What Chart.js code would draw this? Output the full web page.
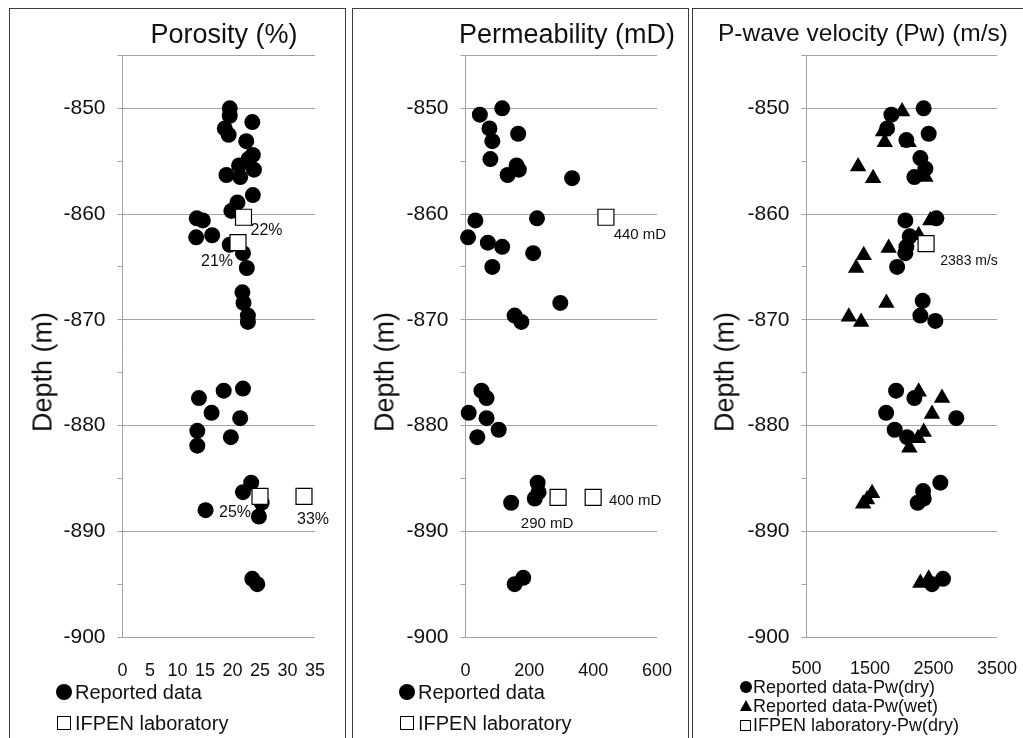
<!DOCTYPE html>
<html>
<head>
<meta charset="utf-8">
<script src="https://cdn.jsdelivr.net/npm/chart.js@4.4.0/dist/chart.umd.min.js"></script>
<style>
  body { margin:0; background:#fff; width:1023px; height:738px; overflow:hidden; position:relative;
         font-family:"Liberation Sans", Arial, sans-serif; color:#111; }
  .box { position:absolute; top:8px; height:760px; border:1.5px solid #3c3c3c; box-sizing:border-box; }
  canvas { position:absolute; top:10px; }
  .title { position:absolute; line-height:1; white-space:nowrap; transform:translate(-50%,-50%); }
  .ytitle { position:absolute; top:372px; font-size:27px; line-height:1; white-space:nowrap;
            transform:translate(-50%,-50%) rotate(-90deg); }
  .leg { position:absolute; white-space:nowrap; }
  .dot { position:absolute; border-radius:50%; background:#000; }
  .sq { position:absolute; border:1px solid #000; background:#fff; box-sizing:border-box; }
  .tri { position:absolute; width:0; height:0; border-left:6px solid transparent;
         border-right:6px solid transparent; border-bottom:11px solid #000; }
</style>
</head>
<body>
<div class="box" style="left:9px;width:337px"></div>
<div class="box" style="left:352px;width:337px"></div>
<div class="box" style="left:692px;width:360px"></div>

<canvas id="c1" width="334" height="680" style="left:11px"></canvas>
<canvas id="c2" width="334" height="680" style="left:354px"></canvas>
<canvas id="c3" width="328" height="680" style="left:695px"></canvas>

<div class="title" style="left:224px;top:34px;font-size:27px">Porosity (%)</div>
<div class="title" style="left:567px;top:34px;font-size:27px">Permeability (mD)</div>
<div class="title" style="left:863px;top:33px;font-size:24.5px">P-wave velocity (Pw) (m/s)</div>

<div class="ytitle" style="left:43px">Depth (m)</div>
<div class="ytitle" style="left:385px">Depth (m)</div>
<div class="ytitle" style="left:725px">Depth (m)</div>

<!-- legends -->
<div class="dot" style="left:56px;top:684px;width:16px;height:16px"></div>
<div class="leg" style="left:75px;top:682px;font-size:20px;line-height:20px">Reported data</div>
<div class="sq" style="left:57px;top:716px;width:14px;height:14px"></div>
<div class="leg" style="left:75px;top:713px;font-size:20px;line-height:20px">IFPEN laboratory</div>

<div class="dot" style="left:399px;top:684px;width:16px;height:16px"></div>
<div class="leg" style="left:418px;top:682px;font-size:20px;line-height:20px">Reported data</div>
<div class="sq" style="left:400px;top:716px;width:14px;height:14px"></div>
<div class="leg" style="left:418px;top:713px;font-size:20px;line-height:20px">IFPEN laboratory</div>

<div class="dot" style="left:740px;top:681px;width:12px;height:12px"></div>
<div class="leg" style="left:753px;top:678px;font-size:18px;line-height:18px">Reported data-Pw(dry)</div>
<div class="tri" style="left:740px;top:700px"></div>
<div class="leg" style="left:753px;top:697px;font-size:18px;line-height:18px">Reported data-Pw(wet)</div>
<div class="sq" style="left:740px;top:720px;width:11px;height:11px"></div>
<div class="leg" style="left:753px;top:716px;font-size:18px;line-height:18px">IFPEN laboratory-Pw(dry)</div>

<script>
// depth axis (m)
const depthTicks = [-900, -895, -890, -885, -880, -875, -870, -865, -860, -855, -850, -845];
const depthLabels = [-900, -890, -880, -870, -860, -850];

// porosity (%)
const porosityTicks = [0, 5, 10, 15, 20, 25, 30, 35];
const porosity = [19.5, 19.5, 23.6, 18.6, 19.3, 22.5, 23.7, 22.9, 21.2, 23.9, 18.9, 21.4, 23.7, 20.9,
  19.8, 13.5, 14.6, 16.3, 13.4, 19.5, 21.9, 22.6, 21.8, 22.0, 22.8, 22.8, 13.9, 18.4, 21.9, 16.2,
  21.4, 13.6, 19.7, 13.6, 23.4, 21.9, 15.1, 24.8, 25.3, 23.6, 24.5];
const porosityDepth = [-850.0, -850.7, -851.3, -851.9, -852.5, -853.1, -854.4, -854.8, -855.4, -855.8,
  -856.3, -856.5, -858.2, -858.9, -859.7, -860.4, -860.6, -862.0, -862.2, -862.9, -863.7, -865.1,
  -867.4, -868.4, -869.6, -870.2, -877.4, -876.7, -876.5, -878.8, -879.3, -880.5, -881.1, -881.9,
  -885.4, -886.3, -888.0, -888.6, -887.3, -894.5, -895.0];
const porosityLab = [22, 21, 25, 33];
const porosityLabDepth = [-860.3, -862.7, -886.7, -886.7];
const porosityLabText = ["22%", "21%", "25%", "33%"];

// permeability (mD)
const permTicks = [0, 200, 400, 600];
const perm = [115, 45, 75, 84, 165, 78, 160, 167, 132, 334, 224, 31, 8, 70, 115, 212, 84, 297, 154,
  175, 50, 66, 10, 66, 104, 37, 226, 229, 217, 143, 181, 154];
const permDepth = [-850.0, -850.6, -851.9, -853.1, -852.4, -854.8, -855.4, -855.8, -856.3, -856.6,
  -860.4, -860.6, -862.2, -862.7, -863.1, -863.7, -865.0, -868.4, -869.6, -870.2, -876.7, -877.4,
  -878.8, -879.3, -880.4, -881.1, -885.4, -886.3, -886.9, -887.3, -894.4, -895.0];
const permLab = [440, 290, 400];
const permLabDepth = [-860.3, -886.8, -886.8];
const permLabText = ["440 mD", "290 mD", "400 mD"];

// P-wave velocity (m/s)
const pwTicks = [500, 1500, 2500, 3500];
const pwDry = [2345, 1837, 1769, 2424, 2073, 2293, 2372, 2199, 2057, 2545, 2125, 2073, 2057, 1927,
  2330, 2293, 2529, 1911, 2199, 1754, 2859, 1889, 2084, 2608, 2336, 2346, 2251, 2650, 2477];
const pwDryDepth = [-850.0, -850.6, -851.9, -852.4, -853.0, -854.7, -855.7, -856.5, -860.6, -860.4,
  -862.1, -863.1, -863.7, -865.0, -868.2, -869.6, -870.1, -876.7, -877.4, -878.8, -879.3, -880.4,
  -881.1, -885.4, -886.2, -886.9, -887.3, -894.5, -895.0];
const pwWet = [2005, 1706, 1732, 2109, 1313, 1549, 2372, 2450, 2267, 1794, 1401, 1282, 1758, 1166,
  1360, 2267, 2634, 2477, 2346, 2257, 2120, 1533, 1454, 1392, 2293, 2424];
const pwWetDepth = [-850.3, -852.2, -853.2, -853.2, -855.5, -856.6, -856.5, -860.6, -862.0, -863.2,
  -863.9, -865.1, -868.4, -869.7, -870.2, -876.8, -877.4, -878.9, -880.6, -881.2, -882.1, -886.4,
  -887.0, -887.4, -894.9, -894.5];
const pwLab = [2383];
const pwLabDepth = [-862.8];
const pwLabText = ["2383 m/s"];

const FONT = '"Liberation Sans", Arial, sans-serif';
const GRID = "#a3a3a3";
const INK = "#111";

const pts = (xs, ys) => xs.map((x, i) => ({ x: x, y: ys[i] }));

const dots = (xs, ys) => ({
  data: pts(xs, ys), pointStyle: "circle", pointRadius: 8,
  backgroundColor: "#000", borderColor: "#000", borderWidth: 0
});
const tris = (xs, ys) => ({
  data: pts(xs, ys), pointStyle: "triangle", pointRadius: 9.5,
  backgroundColor: "#000", borderColor: "#000", borderWidth: 0
});
const squares = (xs, ys) => ({
  data: pts(xs, ys), pointStyle: "rect", pointRadius: 11.3,
  backgroundColor: "#fff", borderColor: "#000", borderWidth: 1.2
});

// text next to the laboratory squares (dataset 0)
const pointLabels = {
  id: "pointLabels",
  afterDatasetsDraw(chart, args, opts) {
    const ctx = chart.ctx;
    const meta = chart.getDatasetMeta(0);
    ctx.save();
    ctx.font = opts.font;
    ctx.fillStyle = INK;
    ctx.textAlign = "center";
    ctx.textBaseline = "middle";
    opts.texts.forEach((t, i) => {
      const p = meta.data[i];
      ctx.fillText(t, p.x + opts.offsets[i][0], p.y + opts.offsets[i][1]);
    });
    ctx.restore();
  }
};

function panel(id, cfg) {
  return new Chart(document.getElementById(id), {
    type: "scatter",
    data: { datasets: cfg.datasets },
    options: {
      responsive: false,
      animation: false,
      clip: false,
      events: [],
      layout: { padding: { top: 45.5, right: cfg.padRight } },
      plugins: {
        legend: { display: false },
        tooltip: { enabled: false },
        title: { display: false },
        pointLabels: cfg.labels
      },
      scales: {
        x: {
          type: "linear", min: cfg.xTicks[0], max: cfg.xTicks[cfg.xTicks.length - 1],
          afterBuildTicks: s => { s.ticks = cfg.xTicks.map(v => ({ value: v })); },
          afterFit: s => { s.height = 53; s.paddingLeft = 0; s.paddingRight = 0; },
          grid: { display: false, drawTicks: false },
          border: { display: false },
          ticks: { autoSkip: false, maxRotation: 0, padding: cfg.xPad, color: INK,
                   font: { family: FONT, size: 18 }, callback: v => String(v) }
        },
        y: {
          type: "linear", min: -900, max: -845,
          afterBuildTicks: s => { s.ticks = depthTicks.map(v => ({ value: v })); },
          afterFit: s => { s.width = 111.5; },
          grid: {
            color: c => (depthLabels.includes(c.tick.value) || c.tick.value === -845) ? GRID : "rgba(0,0,0,0)",
            tickColor: GRID, tickLength: 5, lineWidth: 1
          },
          border: { color: GRID, width: 1 },
          ticks: {
            padding: 12, color: INK, font: { family: FONT, size: 21 },
            callback: v => depthLabels.includes(v) ? String(v) : ""
          }
        }
      }
    },
    plugins: [pointLabels]
  });
}

panel("c1", {
  padRight: 30, xTicks: porosityTicks, xPad: 23,
  datasets: [squares(porosityLab, porosityLabDepth), dots(porosity, porosityDepth)],
  labels: { texts: porosityLabText, font: "16px " + FONT,
            offsets: [[23, 13], [-21, 19], [-25, 16], [9, 23]] }
});

panel("c2", {
  padRight: 31, xTicks: permTicks, xPad: 23,
  datasets: [squares(permLab, permLabDepth), dots(perm, permDepth)],
  labels: { texts: permLabText, font: "15px " + FONT,
            offsets: [[34, 18], [-11, 26], [42, 3]] }
});

panel("c3", {
  padRight: 26, xTicks: pwTicks, xPad: 21,
  datasets: [squares(pwLab, pwLabDepth), tris(pwWet, pwWetDepth), dots(pwDry, pwDryDepth)],
  labels: { texts: pwLabText, font: "14px " + FONT, offsets: [[43, 17]] }
});
</script>
</body>
</html>
